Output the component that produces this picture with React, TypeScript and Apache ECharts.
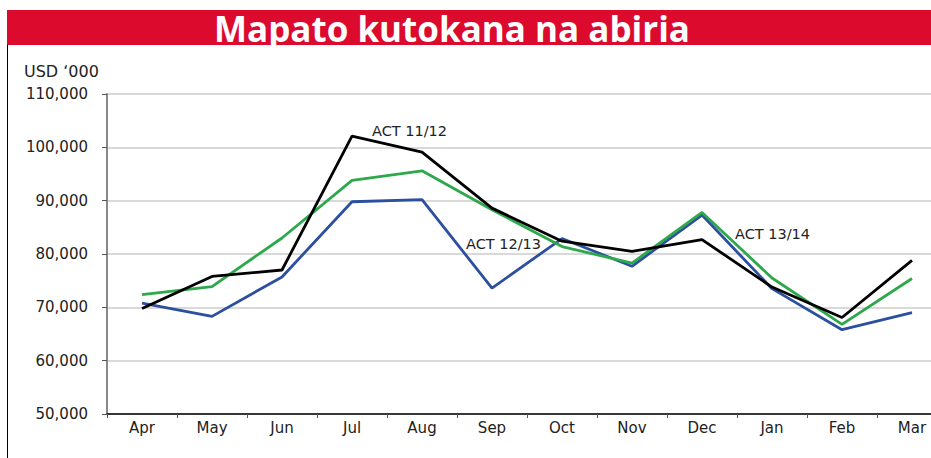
import React, { useEffect, useRef } from "react";
import * as echarts from "echarts";

const months = ["Apr", "May", "Jun", "Jul", "Aug", "Sep", "Oct", "Nov", "Dec", "Jan", "Feb", "Mar"];
const act1112 = [69800, 75800, 77000, 102100, 99100, 88600, 82400, 80500, 82700, 73800, 68100, 78800];
const act1213 = [72400, 73900, 83000, 93800, 95600, 88300, 81400, 78300, 87800, 75500, 66800, 75400];
const act1314 = [70800, 68300, 75700, 89800, 90200, 73600, 82900, 77700, 87300, 73500, 65800, 69000];
const yTicks = { min: 50000, max: 110000, interval: 10000 };
const titleText = "Mapato kutokana na abiria";
const unitText = "USD \u2018000";

const FONT = "'DejaVu Sans', sans-serif";

export default function App() {
  const ref = useRef<HTMLDivElement>(null);
  useEffect(() => {
    document.body.style.margin = "0";
    if (!ref.current) return;
    const chart = echarts.init(ref.current, null, { renderer: "svg" });
    const mkSeries = (name: string, data: number[], color: string) => ({
      name,
      type: "line",
      data,
      symbol: "none",
      lineStyle: { color, width: 2.8 },
      itemStyle: { color },
      z: 3,
    });
    chart.setOption({
      animation: false,
      backgroundColor: "#ffffff",
      textStyle: { fontFamily: FONT },
      grid: { left: 107, top: 94, width: 840, height: 320 },
      xAxis: {
        type: "category",
        data: months,
        boundaryGap: true,
        axisLine: { show: true, lineStyle: { color: "#000", width: 1.5 } },
        axisTick: { show: true, length: 4, lineStyle: { color: "#555" } },
        axisLabel: { color: "#222", fontSize: 15, fontFamily: FONT, margin: 6 },
        splitLine: { show: false },
      },
      yAxis: {
        type: "value",
        min: yTicks.min,
        max: yTicks.max,
        interval: yTicks.interval,
        axisLine: { show: true, lineStyle: { color: "#888", width: 2 } },
        axisTick: { show: true, length: 5, lineStyle: { color: "#555" } },
        axisLabel: {
          color: "#222",
          fontSize: 15,
          fontFamily: FONT,
          margin: 19,
          formatter: (v: number) => v.toLocaleString("en-US"),
        },
        splitLine: { show: true, lineStyle: { color: "#cccccc", width: 1.5 } },
      },
      series: [
        mkSeries("ACT 13/14", act1314, "#2c4f9e"),
        mkSeries("ACT 12/13", act1213, "#2ea84c"),
        mkSeries("ACT 11/12", act1112, "#000000"),
      ],
      graphic: [
        { type: "rect", shape: { x: 7, y: 10, width: 960, height: 35 }, style: { fill: "#dc0a2d" } },
        { type: "line", shape: { x1: 7.5, y1: 45, x2: 7.5, y2: 458 }, style: { stroke: "#000", lineWidth: 1 } },
        {
          type: "text",
          x: 452,
          y: 28,
          style: {
            text: titleText,
            fill: "#ffffff",
            font: `bold 35px 'Open Sans', sans-serif`,
            textAlign: "center",
            textVerticalAlign: "middle",
          },
        },
        {
          type: "text",
          x: 24,
          y: 71,
          style: { text: unitText, fill: "#222", font: `16px ${FONT}`, textVerticalAlign: "middle" },
        },
        {
          type: "text",
          x: 372,
          y: 131,
          style: { text: "ACT 11/12", fill: "#222", font: `14.5px ${FONT}`, textVerticalAlign: "middle" },
        },
        {
          type: "text",
          x: 466,
          y: 244,
          style: { text: "ACT 12/13", fill: "#222", font: `14.5px ${FONT}`, textVerticalAlign: "middle" },
        },
        {
          type: "text",
          x: 735,
          y: 234,
          style: { text: "ACT 13/14", fill: "#222", font: `14.5px ${FONT}`, textVerticalAlign: "middle" },
        },
      ],
    });
    return () => chart.dispose();
  }, []);
  return (
    <div style={{ width: 931, height: 458, overflow: "hidden" }}>
      <div ref={ref} style={{ width: 970, height: 458 }} />
    </div>
  );
}
